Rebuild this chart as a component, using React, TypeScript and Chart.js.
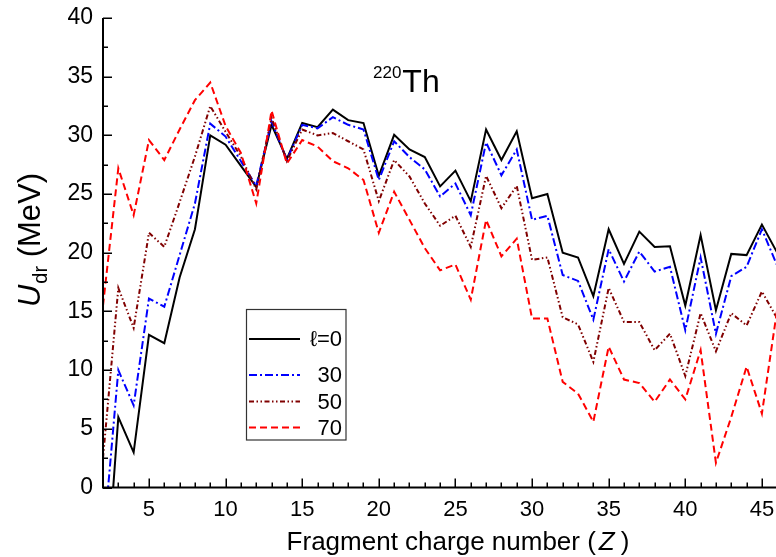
import React, { useEffect, useRef } from "react";
import { Chart, registerables } from "chart.js";

Chart.register(...registerables);

// Fragment charge number Z
const Z = [2, 3, 4, 5, 6, 7, 8, 9, 10, 11, 12, 13, 14, 15, 16, 17, 18, 19, 20, 21, 22, 23, 24, 25, 26, 27, 28, 29, 30, 31, 32, 33, 34, 35, 36, 37, 38, 39, 40, 41, 42, 43, 44, 45, 46];

// U_dr (MeV) for l = 0, 30, 50, 70
const L0 = [-12, 6.0, 3.0, 13.0, 12.3, 17.9, 22.0, 30.0, 29.2, 27.4, 25.6, 30.9, 28.0, 31.05, 30.7, 32.2, 31.3, 31.05, 26.55, 30.05, 28.8, 28.15, 25.65, 27.0, 24.4, 30.5, 27.9, 30.35, 24.65, 25.0, 20.0, 19.6, 16.3, 22.0, 19.05, 21.8, 20.5, 20.55, 15.5, 21.5, 15.1, 19.9, 19.8, 22.4, 20.0];
const L30 = [-5, 10.0, 7.0, 16.1, 15.4, 19.8, 24.2, 31.0, 29.9, 27.8, 25.7, 31.2, 27.9, 30.9, 30.6, 31.55, 30.9, 30.5, 26.2, 29.5, 28.15, 27.1, 24.8, 25.9, 23.2, 29.4, 26.6, 28.8, 22.8, 23.15, 18.1, 17.6, 14.3, 20.3, 17.55, 20.1, 18.4, 18.8, 13.4, 19.6, 13.1, 18.0, 18.8, 22.0, 18.9];
const L50 = [2.5, 17.0, 13.6, 21.7, 20.5, 24.3, 28.2, 32.5, 30.3, 28.2, 25.4, 31.5, 27.8, 30.5, 30.0, 30.2, 29.5, 28.8, 24.4, 27.9, 26.5, 24.2, 22.3, 23.15, 20.5, 26.55, 23.8, 25.7, 19.4, 19.6, 14.5, 13.9, 10.7, 17.0, 14.1, 14.1, 11.7, 13.1, 9.5, 14.85, 11.6, 14.85, 13.8, 16.7, 14.4];
const L70 = [15.5, 27.2, 23.2, 29.6, 27.9, 30.5, 33.0, 34.5, 30.8, 28.5, 24.2, 32.1, 27.6, 29.6, 29.05, 27.8, 27.2, 26.2, 21.7, 25.2, 22.8, 20.4, 18.5, 19.0, 16.0, 22.8, 19.7, 21.2, 14.4, 14.4, 9.0, 8.0, 5.6, 12.0, 9.2, 8.9, 7.3, 9.2, 7.5, 11.7, 2.1, 6.0, 10.3, 6.3, 15.2];

const seriesLabels = ["\u2113=0", "30", "50", "70"];
const xTicks = [5, 10, 15, 20, 25, 30, 35, 40, 45];
const yTicks = [0, 5, 10, 15, 20, 25, 30, 35, 40];

const FONT = "'Liberation Sans', Arial, Helvetica, sans-serif";

const styles = [
  { color: "#000000", dash: [] as number[], width: 2 },
  { color: "#0000ff", dash: [8, 3, 2, 3], width: 2 },
  { color: "#800000", dash: [5, 2.5, 1.5, 2.5, 1.5, 2.5], width: 2 },
  { color: "#ff0000", dash: [7, 4], width: 2 },
];

const seriesValues = [L0, L30, L50, L70];

const decorPlugin = {
  id: "decor",
  afterDraw(chart: any) {
    const { ctx, chartArea } = chart;
    const xs = chart.scales.x;
    const ys = chart.scales.y;
    const L = chartArea.left;
    const B = chartArea.bottom;
    ctx.save();
    ctx.strokeStyle = "#000";
    ctx.lineCap = "butt";
    // axes lines
    ctx.lineWidth = 2;
    ctx.beginPath();
    ctx.moveTo(L, chartArea.top);
    ctx.lineTo(L, B);
    ctx.lineTo(chartArea.right + 2, B);
    ctx.stroke();
    // x ticks (inward)
    ctx.lineWidth = 1.5;
    ctx.beginPath();
    for (let v = Math.ceil(xs.min); v <= xs.max; v++) {
      const px = Math.round(xs.getPixelForValue(v)) + 0.25;
      const len = v % 5 === 0 ? 9 : 5;
      ctx.moveTo(px, B);
      ctx.lineTo(px, B - len);
    }
    // y ticks (inward)
    for (let v = ys.min; v <= ys.max + 1e-9; v += 2.5) {
      const py = Math.round(ys.getPixelForValue(v)) + 0.25;
      const len = Math.abs(v % 5) < 1e-9 ? 9 : 5;
      ctx.moveTo(L, py);
      ctx.lineTo(L + len, py);
    }
    ctx.stroke();

    // x title
    ctx.fillStyle = "#000";
    ctx.textBaseline = "alphabetic";
    const xFont = `26px ${FONT}`;
    const xFontI = `italic 26px ${FONT}`;
    const p1 = "Fragment charge number (";
    const p2 = "Z";
    const p3 = ")";
    ctx.font = xFont;
    const w1 = ctx.measureText(p1).width;
    const w3 = ctx.measureText(p3).width;
    ctx.font = xFontI;
    const w2 = ctx.measureText(p2).width;
    const gap1 = 3;
    const gap2 = 6;
    const total = w1 + gap1 + w2 + gap2 + w3;
    let tx = 458 - total / 2;
    const tyB = 550;
    ctx.font = xFont;
    ctx.fillText(p1, tx, tyB);
    tx += w1 + gap1;
    ctx.font = xFontI;
    ctx.fillText(p2, tx, tyB);
    tx += w2 + gap2;
    ctx.font = xFont;
    ctx.fillText(p3, tx, tyB);

    // y title (rotated)
    ctx.save();
    ctx.translate(40, 240);
    ctx.rotate(-Math.PI / 2);
    const yF = `31px ${FONT}`;
    const yFI = `italic 31px ${FONT}`;
    const yFS = `20px ${FONT}`;
    ctx.font = yFI;
    const u = "U";
    const wu = ctx.measureText(u).width;
    ctx.font = yFS;
    const sub = "dr";
    const ws = ctx.measureText(sub).width;
    ctx.font = yF;
    const rest = " (MeV)";
    const wr = ctx.measureText(rest).width;
    const tot = wu + 1 + ws + wr;
    let ox = -tot / 2;
    ctx.font = yFI;
    ctx.fillText(u, ox, 0);
    ox += wu + 1;
    ctx.font = yFS;
    ctx.fillText(sub, ox, 7);
    ox += ws;
    ctx.font = yF;
    ctx.fillText(rest, ox, 0);
    ctx.restore();

    // nucleus label
    ctx.font = `17px ${FONT}`;
    ctx.fillText("220", 373, 78);
    const w220 = ctx.measureText("220").width;
    ctx.font = `32px ${FONT}`;
    ctx.fillText("Th", 373 + w220 + 1, 92);

    // legend
    const bx = 246.5, by = 309.5, bw = 99.5, bh = 130.5;
    ctx.fillStyle = "#fff";
    ctx.fillRect(bx, by, bw, bh);
    ctx.strokeStyle = "#333";
    ctx.lineWidth = 1.2;
    ctx.strokeRect(bx, by, bw, bh);
    const rows = [339, 375, 401.5, 427.5];
    for (let i = 0; i < seriesLabels.length; i++) {
      const st = styles[i];
      ctx.strokeStyle = st.color;
      ctx.lineWidth = st.width;
      ctx.setLineDash(st.dash);
      ctx.beginPath();
      ctx.moveTo(249, rows[i]);
      ctx.lineTo(300, rows[i]);
      ctx.stroke();
      ctx.setLineDash([]);
      ctx.fillStyle = "#000";
      ctx.font = `22px ${FONT}`;
      ctx.textAlign = "right";
      ctx.textBaseline = "middle";
      ctx.fillText(seriesLabels[i], 342, rows[i] + 1);
    }
    ctx.restore();
  },
};

export default function App() {
  const ref = useRef<HTMLCanvasElement>(null);
  useEffect(() => {
    if (!ref.current) return;
    const datasets = seriesValues.map((vals, i) => ({
      label: seriesLabels[i],
      data: Z.map((z, k) => ({ x: z, y: vals[k] })),
      borderColor: styles[i].color,
      borderWidth: styles[i].width,
      borderDash: styles[i].dash,
      pointRadius: 0,
      tension: 0,
      fill: false,
      order: 3 - i,
    }));
    const chart = new Chart(ref.current, {
      type: "line",
      data: { datasets },
      options: {
        animation: false,
        responsive: false,
        events: [],
        layout: { padding: { top: 18, left: 0, right: 0, bottom: 0 } },
        plugins: { legend: { display: false }, tooltip: { enabled: false } },
        scales: {
          x: {
            type: "linear",
            min: 2,
            max: 45.92,
            grid: { display: false, drawTicks: false },
            border: { display: false },
            ticks: {
              color: "#000",
              font: { family: FONT, size: 22 },
              padding: 9,
              maxRotation: 0,
              autoSkip: false,
            },
            afterBuildTicks: (s: any) => {
              s.ticks = xTicks.map((v) => ({ value: v }));
            },
            afterFit: (s: any) => {
              s.height = 69.5;
              s.paddingLeft = 0;
              s.paddingRight = 0;
            },
          },
          y: {
            type: "linear",
            min: 0,
            max: 40,
            grid: { display: false, drawTicks: false },
            border: { display: false },
            ticks: {
              color: "#000",
              font: { family: FONT, size: 23 },
              padding: 10,
              autoSkip: false,
            },
            afterBuildTicks: (s: any) => {
              s.ticks = yTicks.map((v) => ({ value: v }));
            },
            afterFit: (s: any) => {
              s.width = 103;
              s.paddingTop = 0;
              s.paddingBottom = 0;
            },
          },
        },
      },
      plugins: [decorPlugin],
    });
    return () => chart.destroy();
  }, []);
  return (
    <div style={{ position: "absolute", left: 0, top: 0, width: 776, height: 557, background: "#fff", overflow: "hidden" }}>
      <canvas ref={ref} width={776} height={557} style={{ width: 776, height: 557, display: "block" }} />
    </div>
  );
}
